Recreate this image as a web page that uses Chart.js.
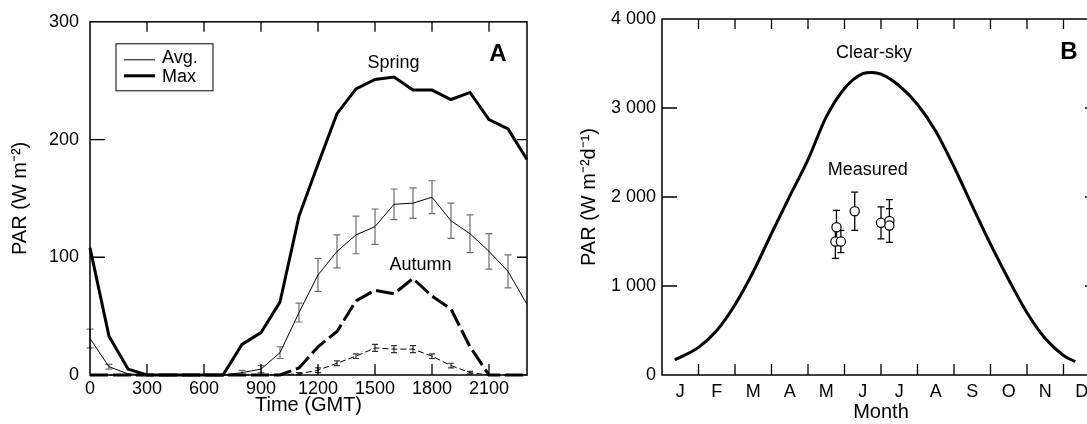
<!DOCTYPE html>
<html>
<head>
<meta charset="utf-8">
<script src="https://cdn.jsdelivr.net/npm/chart.js@4/dist/chart.umd.min.js"></script>
<style>
  html, body { margin: 0; padding: 0; background: #fff; overflow: hidden; }
  #wrap { position: relative; width: 1087px; height: 424px; overflow: hidden; }
  #chartA { position: absolute; left: 0; top: 0; }
  #chartB { position: absolute; left: 545px; top: 0; }
</style>
</head>
<body>
<div id="wrap">
  <canvas id="chartA" width="545" height="424"></canvas>
  <canvas id="chartB" width="565" height="424"></canvas>
</div>
<script>
// ---- panel A : hourly PAR, spring / autumn
const hours = [0, 100, 200, 300, 400, 500, 600, 700, 800, 900, 1000, 1100,
               1200, 1300, 1400, 1500, 1600, 1700, 1800, 1900, 2000, 2100, 2200, 2300];
const springMax = [108, 33, 5, 0, 0, 0, 0, 0, 26, 36, 62, 135, 179, 222, 243, 251, 253, 242, 242, 234, 240, 217, 209, 183];
const springAvg = [31, 7, 1, 0, 0, 0, 0, 0, 2, 5, 19, 53, 85, 105, 119, 126, 145, 146, 151, 131, 120, 105, 88, 60];
const springErr = [8, 2, 0, 0, 0, 0, 0, 0, 2, 3, 5, 8, 14, 14, 16, 15, 13, 13, 14, 15, 16, 15, 14, 0];
const autumnMax = [0, 0, 0, 0, 0, 0, 0, 0, 0, 0, 0, 6, 24, 37, 63, 72, 69, 82, 67, 56, 24, 0, 0, 0];
const autumnAvg = [0, 0, 0, 0, 0, 0, 0, 0, 0, 0, 0, 1, 4, 10, 16, 23, 22, 22, 16, 8, 2, 0, 0, 0];
const autumnErr = [0, 0, 0, 0, 0, 0, 0, 0, 0, 0, 0, 1, 2, 2, 2, 3, 3, 3, 2, 2, 1, 0, 0, 0];
const timeTicks = [0, 300, 600, 900, 1200, 1500, 1800, 2100];
const parTicksA = [0, 100, 200, 300];

// ---- panel B : daily PAR over the year
const months = ['J', 'F', 'M', 'A', 'M', 'J', 'J', 'A', 'S', 'O', 'N', 'D'];
const clearMonth = [0.35, 1, 1.5, 2, 2.5, 3, 3.5, 4, 4.5, 5, 5.5, 5.75, 6, 6.5, 7, 7.5, 8, 8.5, 9, 9.5, 10, 10.5, 11, 11.32];
const clearPar = [170, 310, 500, 790, 1160, 1590, 2010, 2420, 2900, 3220, 3385, 3400, 3380, 3250, 3040, 2740, 2340, 1900, 1470, 1070, 700, 410, 220, 150];
const measMonth = [4.78, 4.75, 4.9, 5.28, 6.0, 6.23, 6.23];
const measPar = [1660, 1500, 1500, 1840, 1710, 1730, 1680];
const measErr = [190, 190, 125, 215, 180, 240, 190];
const parTicksB = [0, 1000, 2000, 3000, 4000];

const FONT = '"Liberation Sans", Arial, Helvetica, sans-serif';
Chart.defaults.font.family = FONT;
Chart.defaults.color = '#000';

const pts = (xs, ys) => xs.map((x, i) => ({ x: x, y: ys[i] }));
const fmtSpace = v => String(v).replace(/\B(?=(\d{3})+(?!\d))/g, ' ');

// vertical error bars, drawn under the lines/markers
const errorBars = {
  id: 'errorBars',
  beforeDatasetsDraw(chart) {
    const ctx = chart.ctx;
    const y = chart.scales.y;
    chart.data.datasets.forEach((ds, i) => {
      if (!ds.errs) return;
      const meta = chart.getDatasetMeta(i);
      ctx.save();
      ctx.strokeStyle = ds.errColor || '#000';
      ctx.lineWidth = ds.errWidth || 1.2;
      ctx.beginPath();
      ds.data.forEach((p, j) => {
        const e = ds.errs[j];
        if (!e) return;
        const px = meta.data[j].x;
        const y1 = y.getPixelForValue(p.y - e);
        const y2 = y.getPixelForValue(p.y + e);
        const c = ds.capHalf || 3;
        ctx.moveTo(px, y1); ctx.lineTo(px, y2);
        ctx.moveTo(px - c, y1); ctx.lineTo(px + c, y1);
        ctx.moveTo(px - c, y2); ctx.lineTo(px + c, y2);
      });
      ctx.stroke();
      ctx.restore();
    });
  }
};

// box, inward tick marks, notes and the small legend
const frame = {
  id: 'frame',
  afterDraw(chart, args, o) {
    const ctx = chart.ctx;
    const a = chart.chartArea;
    const x = chart.scales.x, y = chart.scales.y;
    ctx.save();
    ctx.strokeStyle = '#000';
    ctx.lineWidth = 1.5;
    ctx.strokeRect(a.left, a.top, a.right - a.left, a.bottom - a.top);
    ctx.lineWidth = 1.3;
    ctx.beginPath();
    o.xMarks.forEach(v => {
      const px = x.getPixelForValue(v);
      ctx.moveTo(px, a.bottom); ctx.lineTo(px, a.bottom - 11);
      ctx.moveTo(px, a.top); ctx.lineTo(px, a.top + 10);
    });
    o.yMarks.forEach(v => {
      const py = y.getPixelForValue(v);
      ctx.moveTo(a.left, py); ctx.lineTo(a.left + 15, py);
      ctx.moveTo(a.right, py); ctx.lineTo(a.right - o.rightLen, py);
    });
    ctx.stroke();

    ctx.fillStyle = '#000';
    ctx.textAlign = 'center';
    ctx.textBaseline = 'middle';
    o.notes.forEach(n => {
      ctx.font = n.font;
      ctx.fillText(n.text, x.getPixelForValue(n.x), y.getPixelForValue(n.y));
    });

    if (o.legend) {
      const lx = a.left + 26, ly = a.top + 22;
      ctx.lineWidth = 1;
      ctx.strokeRect(lx, ly, 97, 47);
      ctx.font = '18px ' + FONT;
      ctx.textAlign = 'left';
      o.legend.forEach((it, k) => {
        const ry = ly + 16 + k * 16;
        ctx.lineWidth = it.width;
        ctx.beginPath();
        ctx.moveTo(lx + 8, ry); ctx.lineTo(lx + 39, ry);
        ctx.stroke();
        ctx.fillText(it.text, lx + 46, ry + (k ? 1 : -2));
      });
    }
    ctx.restore();
  }
};

new Chart(document.getElementById('chartA'), {
  type: 'line',
  data: {
    datasets: [
      { label: 'Spring max', data: pts(hours, springMax), borderColor: '#000', borderWidth: 3,
        pointRadius: 0, clip: 6 },
      { label: 'Spring avg', data: pts(hours, springAvg), borderColor: '#000', borderWidth: 1,
        pointRadius: 0, clip: 6, errs: springErr, errColor: '#6e6e6e', capHalf: 3.5 },
      { label: 'Autumn max', data: pts(hours, autumnMax), borderColor: '#000', borderWidth: 3,
        borderDash: [18, 5], pointRadius: 0, clip: 6 },
      { label: 'Autumn avg', data: pts(hours, autumnAvg), borderColor: '#000', borderWidth: 1,
        borderDash: [6, 3], pointRadius: 0, clip: 6, errs: autumnErr, errColor: '#333', capHalf: 3 }
    ]
  },
  options: {
    responsive: false,
    animation: false,
    events: [],
    layout: { padding: { left: 0, right: 18, top: 19, bottom: 0 } },
    plugins: {
      legend: { display: false },
      tooltip: { enabled: false },
      frame: {
        xMarks: [300, 600, 900, 1200, 1500, 1800, 2100],
        yMarks: [100, 200],
        rightLen: 10,
        notes: [
          { text: 'Spring', x: 1598, y: 265, font: '18px ' + FONT },
          { text: 'Autumn', x: 1739, y: 93, font: '18px ' + FONT },
          { text: 'A', x: 2147, y: 272, font: 'bold 24px ' + FONT }
        ],
        legend: [
          { text: 'Avg.', width: 1 },
          { text: 'Max', width: 3 }
        ]
      }
    },
    scales: {
      x: {
        type: 'linear', min: 0, max: 2300,
        afterBuildTicks: s => { s.ticks = timeTicks.map(v => ({ value: v })); },
        afterFit: s => { s.height = 49; },
        grid: { display: false, drawTicks: false },
        border: { display: false },
        ticks: { font: { size: 18 }, padding: 3, maxRotation: 0, autoSkip: false,
                 callback: v => String(v) },
        title: { display: true, text: 'Time (GMT)', font: { size: 20 }, padding: { top: 0, bottom: 7 } }
      },
      y: {
        min: 0, max: 300,
        afterBuildTicks: s => { s.ticks = parTicksA.map(v => ({ value: v })); },
        afterFit: s => { s.width = 90; },
        grid: { display: false, drawTicks: false },
        border: { display: false },
        ticks: { font: { size: 18 }, padding: 11, callback: v => String(v) },
        title: { display: true, text: 'PAR (W m⁻²)', font: { size: 20 }, padding: { top: 8, bottom: 0 } }
      }
    }
  },
  plugins: [errorBars, frame]
});

new Chart(document.getElementById('chartB'), {
  type: 'line',
  data: {
    datasets: [
      { label: 'Measured', data: pts(measMonth, measPar), showLine: false,
        pointRadius: 4.6, pointBackgroundColor: '#fff', pointBorderColor: '#000', pointBorderWidth: 1.2,
        errs: measErr, errColor: '#000', errWidth: 1.3, capHalf: 3.5 },
      { label: 'Clear-sky', data: pts(clearMonth, clearPar), borderColor: '#000', borderWidth: 3,
        pointRadius: 0, cubicInterpolationMode: 'monotone', clip: 6 }
    ]
  },
  options: {
    responsive: false,
    animation: false,
    events: [],
    layout: { padding: { left: 0, right: 10, top: 19, bottom: 0 } },
    plugins: {
      legend: { display: false },
      tooltip: { enabled: false },
      frame: {
        xMarks: [1, 2, 3, 4, 5, 6, 7, 8, 9, 10, 11],
        yMarks: [1000, 2000, 3000],
        rightLen: 15,
        notes: [
          { text: 'Clear-sky', x: 5.81, y: 3620, font: '18px ' + FONT },
          { text: 'Measured', x: 5.64, y: 2300, font: '18px ' + FONT },
          { text: 'B', x: 11.15, y: 3620, font: 'bold 24px ' + FONT }
        ]
      }
    },
    scales: {
      x: {
        type: 'linear', min: 0, max: 12,
        afterBuildTicks: s => { s.ticks = months.map((m, i) => ({ value: i + 0.5 })); },
        afterFit: s => { s.height = 49; },
        grid: { display: false, drawTicks: false },
        border: { display: false },
        ticks: { font: { size: 18 }, padding: 6, maxRotation: 0, autoSkip: false,
                 callback: (v, i) => months[i] },
        title: { display: true, text: 'Month', font: { size: 20 }, padding: { top: 0, bottom: 0 } }
      },
      y: {
        min: 0, max: 4000,
        afterBuildTicks: s => { s.ticks = parTicksB.map(v => ({ value: v })); },
        afterFit: s => { s.width = 117; },
        grid: { display: false, drawTicks: false },
        border: { display: false },
        ticks: { font: { size: 18 }, padding: 6, callback: v => fmtSpace(v) },
        title: { display: true, text: 'PAR (W m⁻²d⁻¹)', font: { size: 20 }, padding: { top: 32, bottom: 0 } }
      }
    }
  },
  plugins: [errorBars, frame]
});
</script>
</body>
</html>
